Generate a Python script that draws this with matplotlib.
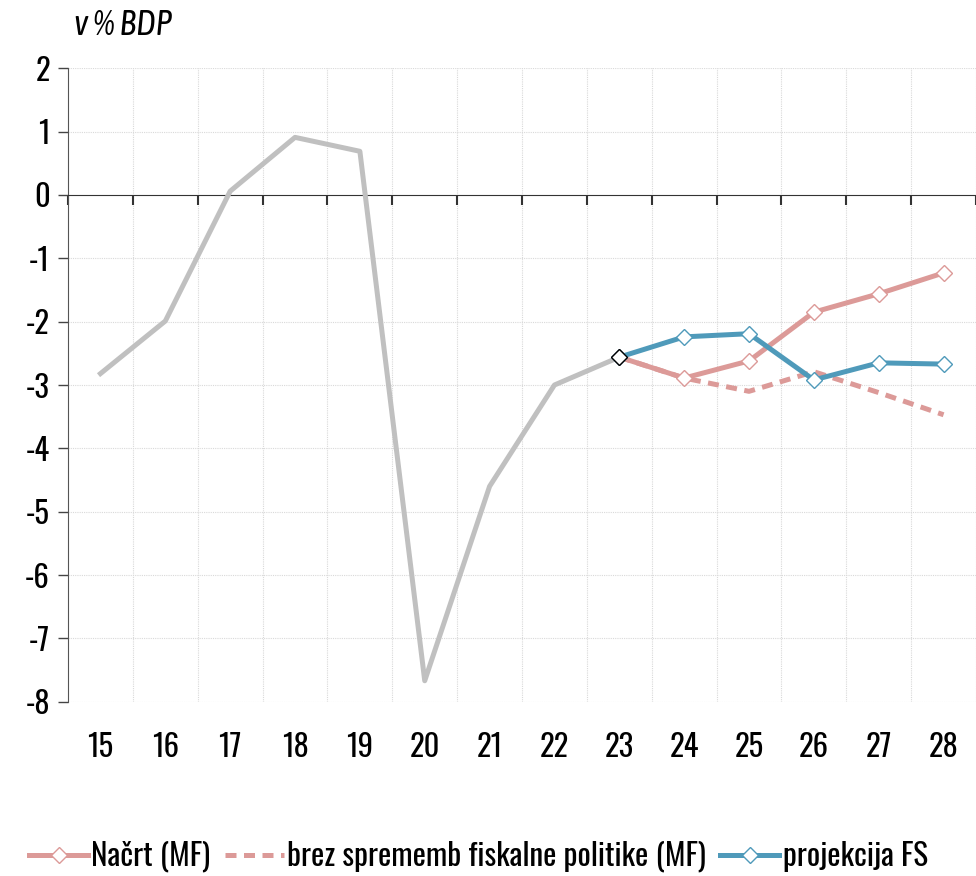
import numpy as np
import matplotlib.pyplot as plt

plt.rcParams['font.family'] = ['Oswald', 'Antonio', 'Archivo Narrow', 'Liberation Sans Narrow', 'DejaVu Sans']

#(0) Data:
years      = ['15', '16', '17', '18', '19', '20', '21', '22', '23', '24', '25', '26', '27', '28']
hist       = [-2.82, -1.99, 0.06, 0.91, 0.69, -7.67, -4.60, -3.00, -2.56]
nacrt      = [-2.56, -2.89, -2.62, -1.85, -1.56, -1.23]
brez       = [-2.56, -2.89, -3.10, -2.79, -3.12, -3.47]
proj_fs    = [-2.56, -2.24, -2.19, -2.92, -2.65, -2.67]

c_gray  = '#c0c0c0'
c_pink  = '#dc9a98'
c_blue  = '#4f9aba'

x     = np.arange(len(years))
x_h   = x[:len(hist)]
x_f   = x[len(hist)-1:]

#(1) Plot:
fig = plt.figure(figsize=(9.76, 8.76), dpi=100)
ax  = fig.add_axes((0.0697, 0.199, 0.9303, 0.723))

lw = 3.6
ax.plot(x_h, hist, color=c_gray, lw=lw, zorder=3)
ax.plot(x_f, brez, color=c_pink, lw=lw, ls=(0, (2.2, 1.5)), zorder=3,
        label='brez sprememb fiskalne politike (MF)')
ax.plot(x_f, nacrt, color=c_pink, lw=lw, marker='D', ms=8.5, mfc='white',
        mec=c_pink, mew=1.0, zorder=4, label='Načrt (MF)')
ax.plot(x_f, proj_fs, color=c_blue, lw=lw, marker='D', ms=8.5, mfc='white',
        mec=c_blue, mew=1.0, zorder=5, label='projekcija FS')
ax.plot(x_f[:1], proj_fs[:1], ls='none', marker='D', ms=8.5, mfc='white',
        mec='black', mew=1.0, zorder=6)

ax.set_xlim(-0.5, len(years) - 0.5)
ax.set_ylim(-8, 2)
ax.set_yticks(np.arange(-8, 3, 1))
ax.set_yticklabels([str(v) for v in range(-8, 3)], fontsize=22)
ax.tick_params(axis='y', length=7, width=1, color='#444444', pad=6)

### x axis through zero, ticks at category boundaries
ax.spines['bottom'].set_position(('data', 0))
ax.spines['bottom'].set_color('#333333')
ax.spines['left'].set_color('#555555')
ax.spines['top'].set_visible(False)
ax.spines['right'].set_visible(False)
ax.set_xticks(np.arange(-0.5, len(years), 1))
ax.set_xticklabels([])
ax.tick_params(axis='x', direction='out', length=7, width=1.5, color='#333333')

### category labels at the bottom
sec = ax.secondary_xaxis('bottom')
sec.set_xticks(x)
sec.set_xticklabels(years, fontsize=22)
sec.tick_params(length=0, pad=22)
sec.spines['bottom'].set_visible(False)

### grid
for yv in range(-8, 3):
    if yv != 0:
        ax.axhline(yv, color='#d9d9d9', lw=0.8, ls=(0, (1, 1)), zorder=1)
for xv in np.arange(0.5, len(years), 1):
    ax.axvline(xv, color='#d9d9d9', lw=0.8, ls=(0, (1, 1)), zorder=1)

fig.text(0.076, 0.971, 'v % BDP', fontsize=25, style='italic', va='center',
         family=['Asap Condensed', 'Archivo Narrow', 'DejaVu Sans'])

h, l = ax.get_legend_handles_labels()
order = [1, 0, 2]
fig.legend([h[i] for i in order], [l[i] for i in order], loc='center',
           bbox_to_anchor=(0.49, 0.022), ncol=3, frameon=False, fontsize=22.5,
           handlelength=1.9, handletextpad=0.1, columnspacing=0.45)

fig.savefig('out.png', dpi=100)
